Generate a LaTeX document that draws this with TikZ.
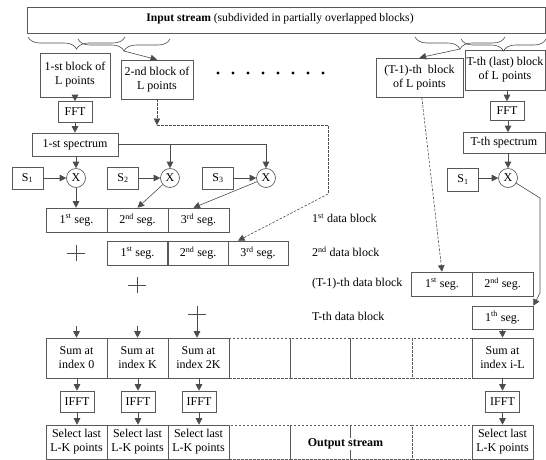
\documentclass[tikz,border=0pt]{standalone}
\usepackage{fontspec}
\setmainfont{Liberation Serif}
\usetikzlibrary{arrows.meta,decorations.pathreplacing,calc}
\begin{document}
\begin{tikzpicture}[x=1pt,y=-1pt,
  every node/.style={font=\fontsize{12}{14}\selectfont, inner sep=0pt},
  box/.style={draw=black!65, line width=0.6pt, align=center},
  dbox/.style={draw=black!65, line width=0.6pt, dash pattern=on 2.5pt off 1.5pt},
  ln/.style={draw=black!70, line width=0.6pt},
  arr/.style={ln, -{Triangle[length=6.5pt,width=6.5pt]}},
  dsh/.style={ln, dash pattern=on 2.5pt off 1.5pt},
  darr/.style={dsh, -{Triangle[length=6.5pt,width=6.5pt]}},
  mult/.style={circle, draw=black!70, line width=0.6pt, minimum size=19pt},
  brc/.style={ln, decorate, decoration={brace, mirror, amplitude=12pt}},
  cell/.style={box, minimum width=61, minimum height=24},
  sumc/.style={box, minimum width=61, minimum height=40},
  selc/.style={box, minimum width=61, minimum height=34},
  fft/.style={box, minimum width=34, minimum height=21},
  sbox/.style={box, minimum width=31, minimum height=22},
  plus/.style={ln, line width=0.5pt},
]
\useasboundingbox (0,0) rectangle (546,459);

% input stream
\node[box, minimum width=518, minimum height=26] (inbox) at (286,20) {};
\node (intxt) at (280,19) {\fontsize{11.6}{13}\selectfont\textbf{Input stream} (subdivided in partially overlapped blocks)};

% braces
\draw[brc] (28,37) -- (125,37);
\draw[brc] (78,39) -- (170,39);
\draw[brc] (415,37) -- (505,37);
\draw[brc] (461,39) -- (546,39);
\coordinate (tip2) at (124,51);
\coordinate (tipA) at (460,49);

% blocks
\node[box, minimum width=70, minimum height=44] (b1) at (75,75) {1-st block of\\L points};
\node[box, minimum width=72, minimum height=39] (b2) at (157,79.5) {2-nd block of\\L points};
\node[box, minimum width=87, minimum height=39] (bT1) at (419.5,77.5) {(T-1)-th\ \ block\\of L points};
\node[box, minimum width=80, minimum height=40] (bT) at (505,70) {T-th (last) block\\of L points};
\draw[arr] (tip2) -- (b2.north);
\draw[arr] (tipA) -- (bT1.north);

\foreach \i in {0,...,7} \fill[black] (218+15*\i,73) circle (1.6);

% left chain
\node[fft] (f1) at (75,112) {FFT};
\node[box, minimum width=86, minimum height=23] (sp1) at (75,144.5) {1-st spectrum};
\node[mult] (x1) at (76,178) {X};
\node[mult] (x2) at (170,178) {X};
\node[mult] (x3) at (266,178) {X};
\node[sbox] (s1) at (27.5,178) {S\textsubscript{1}};
\node[sbox] (s2) at (123,178) {S\textsubscript{2}};
\node[sbox] (s3) at (218,178) {S\textsubscript{3}};
\draw[arr] (b1) -- (f1);
\draw[arr] (f1) -- (sp1);
\draw[arr] (sp1.south -| x1) -- (x1);
\draw[arr] (s1) -- (x1);
\draw[arr] (s2) -- (x2);
\draw[arr] (s3) -- (x3);
\coordinate (sj) at (170,144.5);
\draw[arr] (sp1.east) -| (x2.north);
\draw[arr] (sj) -| (x3.north);

% data block rows
\node[cell] (a1) at (76.5,220) {1\textsuperscript{st} seg.};
\node[cell] (a2) at (137.5,220) {2\textsuperscript{nd} seg.};
\node[cell] (a3) at (198.5,220) {3\textsuperscript{rd} seg.};
\node[cell] (c1) at (137.5,253) {1\textsuperscript{st} seg.};
\node[cell] (c2) at (198,253) {2\textsuperscript{nd} seg.};
\node[cell, minimum width=60] (c3) at (258,253) {3\textsuperscript{rd} seg.};
\draw[arr] (x1) -- (a1.north -| x1);
\draw[arr] (x2) -- (a2.north);
\draw[arr] (x3) -- ([xshift=-5]a3.north);

% dashed path from block 2
\coordinate (dj1) at (157,125);
\coordinate (dj2) at (328,125);
\coordinate (dj3) at (328,194);
\draw[darr] (b2) -- (dj1);
\draw[dsh] (dj1) -- (dj2) -- (dj3);
\draw[darr] (dj3) -- ([xshift=-20]c3.north);

% labels
\node[anchor=west] (l1) at (312,218) {1\textsuperscript{st} data block};
\node[anchor=west] (l2) at (312,252) {2\textsuperscript{nd} data block};
\node[anchor=west] (l3) at (312,284) {(T-1)-th data block};
\node[anchor=west] (l4) at (312,316) {T-th data block};

% plus signs
\draw[plus] (67,253) -- (85,253) (76,245) -- (76,261);
\draw[plus] (128,285) -- (146,285) (137,277) -- (137,293);
\draw[plus] (188,314) -- (206,314) (197,306) -- (197,322);

% right chain
\node[fft, minimum height=19] (f2) at (507,111) {FFT};
\node[box, minimum width=82, minimum height=21] (sp2) at (504,143) {T-th spectrum};
\node[mult] (x4) at (508,178) {X};
\node[sbox, minimum height=23] (s4) at (463,179.5) {S\textsubscript{1}};
\draw[arr] (bT.south -| f2) -- (f2);
\draw[arr] (f2.south -| x4) -- (sp2.north -| x4);
\draw[arr] (sp2.south -| x4) -- (x4);
\draw[arr] (s4.east |- x4) -- (x4);

\node[cell] (t1) at (442,284) {1\textsuperscript{st} seg.};
\node[cell] (t2) at (502.5,284) {2\textsuperscript{nd} seg.};
\node[box, minimum width=61, minimum height=23] (tt) at (502.5,317.5) {1\textsuperscript{th} seg.};
\draw[darr] (bT1) -- (t1.north);
\coordinate (r1) at (540,198);
\coordinate (r2) at (540,293);
\draw[ln] (x4) -- (r1) -- (r2);
\draw[arr] (r2) -- (tt.north east);

% sum row
\node[sumc] (u1) at (76.5,358) {Sum at\\index 0};
\node[sumc] (u2) at (137.5,358) {Sum at\\index K};
\node[sumc] (u3) at (198.5,358) {Sum at\\index 2K};
\node[dbox, minimum width=61, minimum height=40] (d1) at (259.5,358) {};
\node[dbox, minimum width=60, minimum height=40] (d2) at (320,358) {};
\node[dbox, minimum width=62, minimum height=40] (d3) at (381,358) {};
\node[dbox, minimum width=60, minimum height=40] (d4) at (442,358) {};
\node[sumc] (uR) at (502.5,358) {Sum at\\index i-L};
\coordinate (q1) at (76.5,326);
\coordinate (q2) at (137.5,326);
\coordinate (q3) at (197,322);
\draw[arr] (q1) -- (u1);
\draw[arr] (q2) -- (u2);
\draw[arr] (q3) -- (u3.north -| q3);
\draw[arr] (tt) -- (uR);

% IFFT
\node[fft] (i1) at (77,401.5) {IFFT};
\node[fft] (i2) at (138,401.5) {IFFT};
\node[fft] (i3) at (199,401.5) {IFFT};
\node[fft] (iR) at (502.5,401.5) {IFFT};

% select row
\node[selc] (e1) at (76.5,442) {Select last\\L-K points};
\node[selc] (e2) at (137.5,442) {Select last\\L-K points};
\node[selc] (e3) at (198.5,442) {Select last\\L-K points};
\node[dbox, minimum width=61, minimum height=34] (g1) at (259.5,442) {};
\node[dbox, minimum width=60, minimum height=34] (g2) at (320,442) {};
\node[dbox, minimum width=62, minimum height=34] (g3) at (381,442) {};
\node[dbox, minimum width=60, minimum height=34] (g4) at (442,442) {};
\node[selc] (eR) at (502.5,442) {Select last\\L-K points};
\node[fill=white, inner sep=1pt] (out) at (345.5,444) {\textbf{Output stream}};

\foreach \u/\i/\e in {u1/i1/e1, u2/i2/e2, u3/i3/e3, uR/iR/eR} {
  \draw[arr] (\u.south -| \i) -- (\i);
  \draw[arr] (\i) -- (\e.north -| \i);
}
\end{tikzpicture}
\end{document}
